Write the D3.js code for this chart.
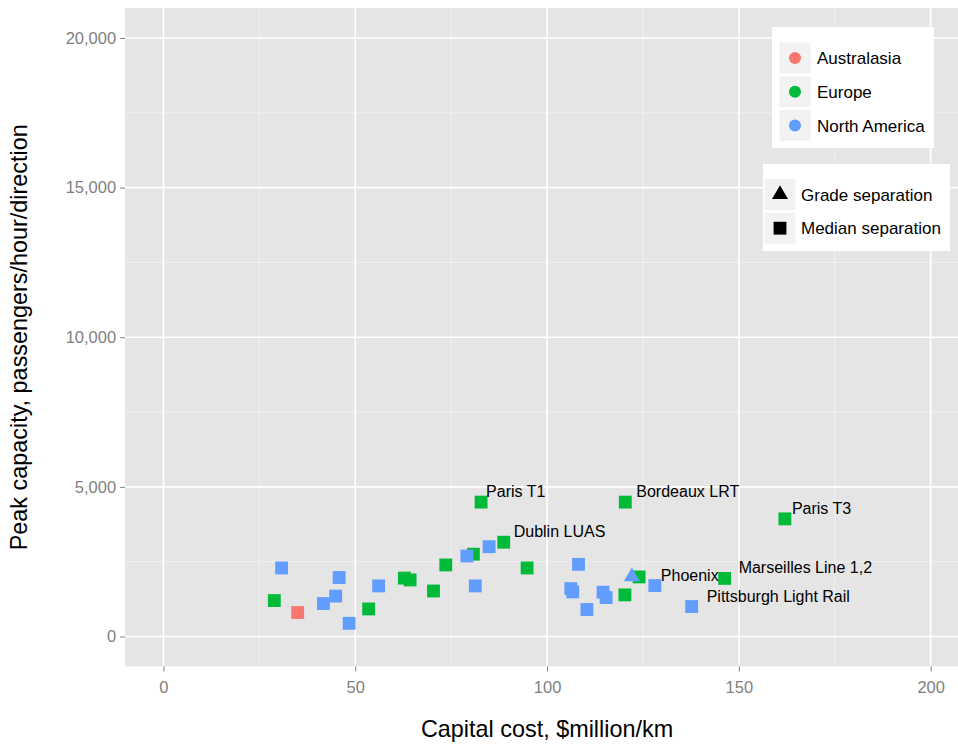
<!DOCTYPE html>
<html>
<head>
<meta charset="utf-8">
<script src="https://cdn.jsdelivr.net/npm/d3@7"></script>
<style>
  html, body { margin: 0; padding: 0; background: #ffffff; }
  svg { display: block; font-family: "Liberation Sans", Arial, Helvetica, sans-serif; }
</style>
</head>
<body>
<svg id="chart" width="958" height="745"></svg>
<script>
// Light rail lines: capital cost ($million/km) against peak capacity (passengers/hour/direction)
const region = [
  "Europe","Europe","Europe","Europe","Europe","Europe","Europe","Europe",
  "Europe","Europe","Europe","Europe","Europe","Europe","Europe",
  "North America","North America","North America","North America","North America","North America",
  "North America","North America","North America","North America","North America","North America",
  "North America","North America","North America","North America","North America","North America",
  "Australasia"
];
const cost = [
  28.9, 53.5, 62.8, 64.3, 70.4, 73.6, 80.8, 82.8,
  88.7, 94.8, 120.3, 120.4, 124.0, 146.3, 162.0,
  30.8, 41.7, 44.9, 45.8, 48.4, 56.1,
  79.1, 81.3, 84.9, 108.2, 106.2, 106.7,
  110.4, 114.6, 115.4, 122.1, 128.1, 137.7,
  35.0
];
const capacity = [
  1200, 920, 1950, 1890, 1520, 2390, 2750, 4490,
  3150, 2290, 1390, 4490, 1990, 1940, 3930,
  2290, 1100, 1350, 1970, 440, 1690,
  2690, 1690, 3000, 2410, 1600, 1490,
  900, 1480, 1300, 2000, 1700, 1000,
  800
];
const separation = [
  "Median","Median","Median","Median","Median","Median","Median","Median",
  "Median","Median","Median","Median","Median","Median","Median",
  "Median","Median","Median","Median","Median","Median",
  "Median","Median","Median","Median","Median","Median",
  "Median","Median","Median","Grade","Median","Median",
  "Median"
];
const lineName = [
  "", "", "", "", "", "", "", "Paris T1",
  "Dublin LUAS", "", "", "Bordeaux LRT", "", "Marseilles Line 1,2", "Paris T3",
  "", "", "", "", "", "",
  "", "", "", "", "", "",
  "", "", "", "", "Phoenix", "Pittsburgh Light Rail",
  ""
];

const regions = ["Australasia", "Europe", "North America"];
const separations = ["Grade", "Median"];
const separationLabels = ["Grade separation", "Median separation"];
const xTicks = [0, 50, 100, 150, 200];
const yTicks = [0, 5000, 10000, 15000, 20000];
const xMinor = [25, 75, 125, 175];
const yMinor = [2500, 7500, 12500, 17500];

// horizontal nudges (px) for the line name labels
const labelNudge = {
  "Paris T1": 5, "Dublin LUAS": 10, "Bordeaux LRT": 11, "Paris T3": 7,
  "Marseilles Line 1,2": 14, "Phoenix": 6, "Pittsburgh Light Rail": 15
};

const points = cost.map((c, i) => ({
  cost: c, capacity: capacity[i], region: region[i],
  separation: separation[i], name: lineName[i]
}));

const svg = d3.select("#chart");
const panel = { left: 125.1, right: 969, top: 8.1, bottom: 666.4 };

const x = d3.scaleLinear().domain([-10, 210]).range([panel.left, panel.right]);
const y = d3.scaleLinear().domain([-1000, 21000]).range([panel.bottom, panel.top]);
const colour = d3.scaleOrdinal().domain(regions).range(["#F8766D", "#00BA38", "#619CFF"]);
const shape = d3.scaleOrdinal().domain(separations).range([d3.symbolTriangle, d3.symbolSquare]);
const shapeSize = { Grade: 110, Median: 165 };

// panel background
svg.append("rect")
  .attr("x", panel.left).attr("y", panel.top)
  .attr("width", panel.right - panel.left).attr("height", panel.bottom - panel.top)
  .attr("fill", "#E5E5E5");

const grid = svg.append("g");
grid.selectAll(".xminor").data(xMinor).join("line")
  .attr("x1", d => x(d)).attr("x2", d => x(d))
  .attr("y1", panel.top).attr("y2", panel.bottom)
  .attr("stroke", "#F2F2F2").attr("stroke-width", 0.8);
grid.selectAll(".yminor").data(yMinor).join("line")
  .attr("y1", d => y(d)).attr("y2", d => y(d))
  .attr("x1", panel.left).attr("x2", panel.right)
  .attr("stroke", "#F2F2F2").attr("stroke-width", 0.8);
grid.selectAll(".xmajor").data(xTicks).join("line")
  .attr("x1", d => x(d)).attr("x2", d => x(d))
  .attr("y1", panel.top).attr("y2", panel.bottom)
  .attr("stroke", "#FFFFFF").attr("stroke-width", 1.6);
grid.selectAll(".ymajor").data(yTicks).join("line")
  .attr("y1", d => y(d)).attr("y2", d => y(d))
  .attr("x1", panel.left).attr("x2", panel.right)
  .attr("stroke", "#FFFFFF").attr("stroke-width", 1.6);

// axes
const fmt = d3.format(",");
const xAxis = svg.append("g")
  .attr("transform", `translate(0,${panel.bottom})`)
  .call(d3.axisBottom(x).tickValues(xTicks).tickSize(5).tickPadding(10).tickFormat(d3.format("d")));
const yAxis = svg.append("g")
  .attr("transform", `translate(${panel.left},0)`)
  .call(d3.axisLeft(y).tickValues(yTicks).tickSize(5).tickPadding(4).tickFormat(fmt));
[xAxis, yAxis].forEach(ax => {
  ax.select(".domain").remove();
  ax.selectAll(".tick line").attr("stroke", "#7F7F7F").attr("stroke-width", 1);
  ax.selectAll(".tick text")
    .attr("fill", "#7F7F7F")
    .style("font-size", "16.5px")
    .style("font-family", "'Liberation Sans', Arial, sans-serif");
});

// points
const symbol = d3.symbol();
svg.append("g").selectAll("path").data(points).join("path")
  .attr("transform", d => `translate(${x(d.cost)},${y(d.capacity)})`)
  .attr("d", d => symbol.type(shape(d.separation)).size(shapeSize[d.separation])())
  .attr("fill", d => colour(d.region));

// line name labels
svg.append("g").selectAll("text").data(points.filter(d => d.name)).join("text")
  .attr("x", d => x(d.cost) + labelNudge[d.name])
  .attr("y", d => y(d.capacity) - 5)
  .attr("fill", "#000")
  .style("font-size", "16px")
  .text(d => d.name);

// axis titles
svg.append("text")
  .attr("x", (panel.left + panel.right) / 2).attr("y", 737)
  .attr("text-anchor", "middle")
  .style("font-size", "23.4px")
  .text("Capital cost, $million/km");
svg.append("text")
  .attr("transform", `translate(27,${(panel.top + panel.bottom) / 2}) rotate(-90)`)
  .attr("text-anchor", "middle")
  .style("font-size", "23.4px")
  .text("Peak capacity, passengers/hour/direction");

// legend: region colour
const leg1 = svg.append("g").attr("transform", "translate(772,27)");
leg1.append("rect").attr("width", 162).attr("height", 121).attr("fill", "#FFFFFF");
const rows1 = leg1.selectAll("g").data(regions).join("g")
  .attr("transform", (d, i) => `translate(7,${15 + i * 33.7})`);
rows1.append("rect").attr("width", 32).attr("height", 32)
  .attr("fill", "#F2F2F2").attr("stroke", "#FFFFFF").attr("stroke-width", 1);
rows1.append("circle").attr("cx", 16).attr("cy", 16).attr("r", 6)
  .attr("fill", d => colour(d));
rows1.append("text").attr("x", 38).attr("y", 16).attr("dy", "0.36em")
  .style("font-size", "17px").text(d => d);

// legend: separation shape
const leg2 = svg.append("g").attr("transform", "translate(763,164)");
leg2.append("rect").attr("width", 187).attr("height", 87).attr("fill", "#FFFFFF");
const rows2 = leg2.selectAll("g").data(separations).join("g")
  .attr("transform", (d, i) => `translate(1,${14.5 + i * 33.7})`);
rows2.append("rect").attr("width", 32).attr("height", 32)
  .attr("fill", "#F2F2F2").attr("stroke", "#FFFFFF").attr("stroke-width", 1);
rows2.append("path")
  .attr("transform", "translate(16,16)")
  .attr("d", d => symbol.type(shape(d)).size(shapeSize[d])())
  .attr("fill", "#000");
rows2.append("text").attr("x", 37).attr("y", 16).attr("dy", "0.36em")
  .style("font-size", "17px").text((d, i) => separationLabels[i]);
</script>
</body>
</html>
